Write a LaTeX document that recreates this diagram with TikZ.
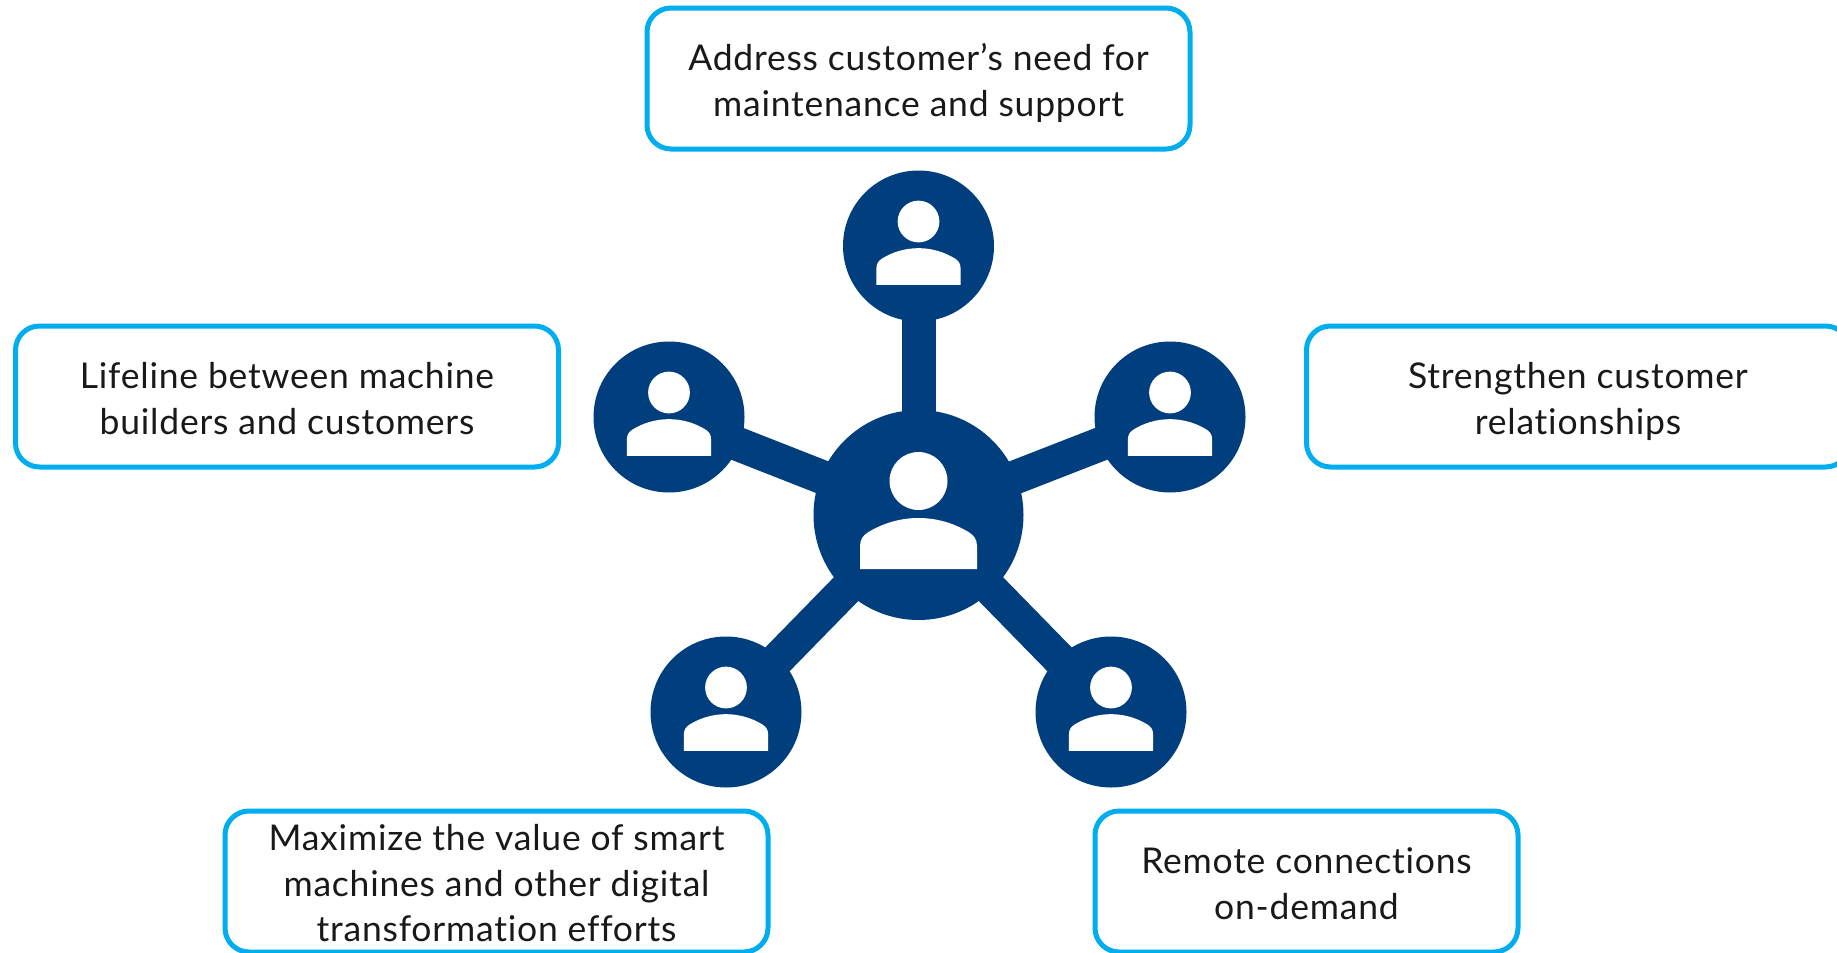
\documentclass[tikz,border=0pt]{standalone}
\usepackage{fontspec}
\setmainfont[Ligatures=NoCommon,LetterSpace=2.2]{Lato}
\definecolor{hubBlue}{HTML}{003E7E}
\definecolor{boxCyan}{HTML}{00AEEF}
\newcommand{\ls}{\rule[-8pt]{0pt}{45.5pt}}
\tikzset{personIcon/.pic={
	\fill[white] (0,-34) circle (29);
	\fill[white] (-58.5,54) -- (-58.5,31) .. controls (-58.5,24) and (-55,20) .. (-50,17) .. controls (-35,8) and (-18,3) .. (0,3) .. controls (18,3) and (35,8) .. (50,17) .. controls (55,20) and (58.5,24) .. (58.5,31) -- (58.5,54) -- cycle;
}}

\begin{document}
\begin{tikzpicture}[x = 1pt, y = -1pt, font=\fontsize{35.5}{45.5}\selectfont]
	\tikzstyle{hubStyle}=[shape = circle, minimum size = 210pt, inner sep = 0pt, fill = hubBlue]
	\tikzstyle{userStyle}=[shape = circle, minimum size = 151pt, inner sep = 0pt, fill = hubBlue]
	\tikzstyle{spokeStyle}=[draw = hubBlue, line width = 34pt]
	\tikzstyle{benefitStyle}=[shape = rectangle, rounded corners = 24pt, draw = boxCyan, line width = 5pt, fill = white, align = center, inner sep = 0pt, minimum height = 141pt, text = black!90]
	\useasboundingbox (0,0) rectangle (1837,953);
	\node[hubStyle] (hub) at (918.5,515) {};
	\node[userStyle] (userTop) at (918.5,246) {};
	\node[userStyle] (userLeft) at (669,417) {};
	\node[userStyle] (userRight) at (1170,417) {};
	\node[userStyle] (userLowLeft) at (726,712) {};
	\node[userStyle] (userLowRight) at (1111,712) {};
	\draw[spokeStyle] (hub.center) -- (userTop.center);
	\draw[spokeStyle] (hub.center) -- (userLeft.center);
	\draw[spokeStyle] (hub.center) -- (userRight.center);
	\draw[spokeStyle] (hub.center) -- (userLowLeft.center);
	\draw[spokeStyle] (hub.center) -- (userLowRight.center);
	\pic at (hub) {personIcon};
	\pic[scale = 0.72] at (userTop) {personIcon};
	\pic[scale = 0.72] at (userLeft) {personIcon};
	\pic[scale = 0.72] at (userRight) {personIcon};
	\pic[scale = 0.72] at (userLowLeft) {personIcon};
	\pic[scale = 0.72] at (userLowRight) {personIcon};
	\node[benefitStyle, minimum width = 543pt] (boxTop) at (918.5,78.5) {\ls Address customer’s need for\\\ls maintenance and support};
	\node[benefitStyle, minimum width = 543pt] (boxLeft) at (287,396.5) {\ls Lifeline between machine\\\ls builders and customers};
	\node[benefitStyle, minimum width = 543pt] (boxRight) at (1578,396.5) {\ls Strengthen customer\\\ls relationships};
	\node[benefitStyle, minimum width = 543pt] (boxLowLeft) at (496.5,881.5) {\ls Maximize the value of smart\\\ls machines and other digital\\\ls transformation efforts};
	\node[benefitStyle, minimum width = 423pt] (boxLowRight) at (1306.5,881.5) {\ls Remote connections\\\ls on-demand};
\end{tikzpicture}
\end{document}
